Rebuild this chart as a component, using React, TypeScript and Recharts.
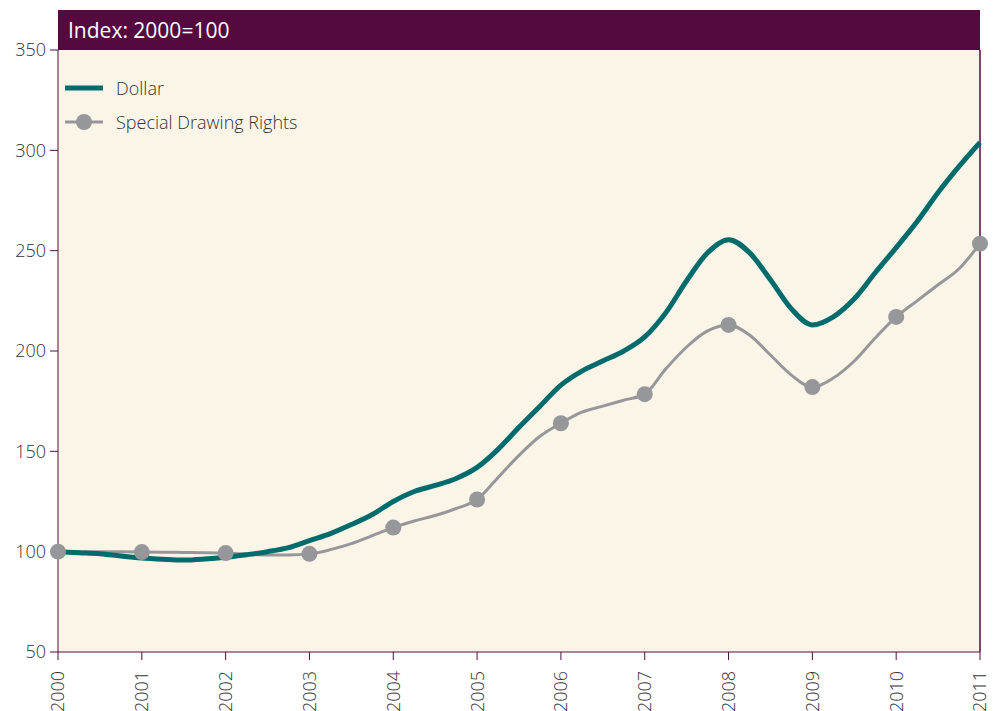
import { LineChart, Line, XAxis, YAxis, CartesianGrid, ReferenceLine } from 'recharts'

const quarters = [
  2000, 2000.25, 2000.5, 2000.75, 2001, 2001.25, 2001.5, 2001.75,
  2002, 2002.25, 2002.5, 2002.75, 2003, 2003.25, 2003.5, 2003.75,
  2004, 2004.25, 2004.5, 2004.75, 2005, 2005.25, 2005.5, 2005.75,
  2006, 2006.25, 2006.5, 2006.75, 2007, 2007.25, 2007.5, 2007.75,
  2008, 2008.25, 2008.5, 2008.75, 2009, 2009.25, 2009.5, 2009.75,
  2010, 2010.25, 2010.5, 2010.75, 2011,
]

const dollar = [
  100, 99.5, 99, 97.8, 96.8, 96.2, 95.8, 96.3,
  97.2, 98.5, 100, 102, 105.5, 109, 113.5, 118.5,
  125, 130, 133, 136.5, 142, 151, 162, 172.5,
  183, 190, 195, 200, 207, 219, 235, 249,
  255.5, 249, 235.5, 221, 213, 217, 226, 239,
  251.5, 264.5, 279, 292, 304,
]

const sdr = [
  100, 100, 100, 99.9, 99.8, 99.7, 99.6, 99.5,
  99.3, 98.8, 98.4, 98.4, 98.9, 101, 104, 108,
  112, 115.3, 118, 121.5, 126, 137, 148, 157.5,
  164, 169.5, 172.5, 175.5, 178.5, 191, 202, 210,
  213, 208, 198, 188, 182, 186.5, 195, 206.5,
  217, 225, 233, 241, 253.5,
]

const yearTicks = [2000, 2001, 2002, 2003, 2004, 2005, 2006, 2007, 2008, 2009, 2010, 2011]
const valueTicks = [50, 100, 150, 200, 250, 300, 350]

const data = quarters.map((q, i) => ({ q, dollar: dollar[i], sdr: sdr[i] }))

const MAROON = '#550a3f'
const TEAL = '#006b6c'
const GREY = '#96979a'
const FONT = '"Open Sans", "Noto Sans", sans-serif'

function YearTick({ x, y, payload }: any) {
  const ty = y + 9
  return (
    <text
      x={x}
      y={ty}
      transform={`rotate(-90, ${x}, ${ty})`}
      textAnchor="end"
      dy="0.36em"
      fontSize={18}
      fontFamily={FONT}
      fontWeight={300}
      fill="#333"
    >
      {payload.value}
    </text>
  )
}

function SdrDot({ cx, cy, payload, index }: any) {
  if (payload.q % 1 !== 0) return <g key={index} />
  return <circle key={index} cx={cx} cy={cy} r={8} fill={GREY} />
}

function LegendBox() {
  const row = { display: 'flex', alignItems: 'center', height: 34 }
  const label = { fontSize: 18, fontFamily: FONT, fontWeight: 300, color: '#333', marginLeft: 12 }
  return (
    <div style={{ position: 'absolute', left: 64, top: 71 }}>
      <div style={row}>
        <svg width={40} height={20}>
          <line x1={1} y1={10} x2={39} y2={10} stroke={TEAL} strokeWidth={5} />
        </svg>
        <span style={label}>Dollar</span>
      </div>
      <div style={row}>
        <svg width={40} height={20}>
          <line x1={1} y1={10} x2={39} y2={10} stroke={GREY} strokeWidth={3} />
          <circle cx={20} cy={10} r={8} fill={GREY} />
        </svg>
        <span style={label}>Special Drawing Rights</span>
      </div>
    </div>
  )
}

export default function App() {
  return (
    <div style={{ position: 'absolute', left: 0, top: 0, width: 995, height: 711, background: '#fff' }}>
      <LineChart width={995} height={711} data={data} margin={{ top: 50, right: 15, bottom: 0, left: 0 }}>
        <CartesianGrid horizontal={false} vertical={false} fill="#fbf5e8" />
        <XAxis
          dataKey="q"
          type="number"
          domain={[2000, 2011]}
          ticks={yearTicks}
          interval={0}
          height={59}
          tickSize={8}
          stroke={MAROON}
          tick={<YearTick />}
        />
        <YAxis
          type="number"
          domain={[50, 350]}
          ticks={valueTicks}
          interval={0}
          width={58}
          tickSize={8}
          tickMargin={4}
          stroke={MAROON}
          tick={{ fontSize: 18, fontFamily: FONT, fontWeight: 300, fill: '#333' }}
        />
        <ReferenceLine x={2011} stroke={MAROON} strokeWidth={1.5} />
        <Line
          dataKey="sdr"
          name="Special Drawing Rights"
          type="monotone"
          stroke={GREY}
          strokeWidth={3}
          dot={<SdrDot />}
          activeDot={false}
          isAnimationActive={false}
        />
        <Line
          dataKey="dollar"
          name="Dollar"
          type="monotone"
          stroke={TEAL}
          strokeWidth={5}
          dot={false}
          activeDot={false}
          isAnimationActive={false}
        />
      </LineChart>
      <LegendBox />
      <div
        style={{
          position: 'absolute',
          left: 58,
          top: 10,
          width: 922,
          height: 40,
          background: MAROON,
          color: '#fff',
          fontFamily: FONT,
          fontSize: 21,
          lineHeight: '40px',
          paddingLeft: 10,
          boxSizing: 'border-box',
        }}
      >
        Index: 2000=100
      </div>
    </div>
  )
}
